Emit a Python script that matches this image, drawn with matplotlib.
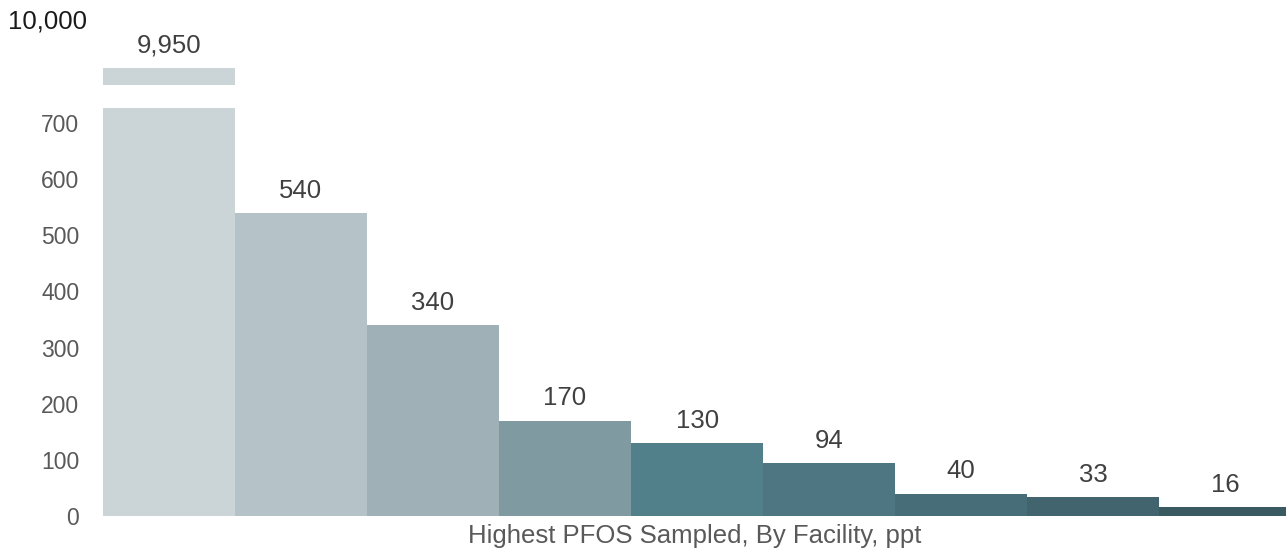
import matplotlib
matplotlib.use("Agg")
import matplotlib.pyplot as plt

# data
facilities = ["F1", "F2", "F3", "F4", "F5", "F6", "F7", "F8", "F9"]
pfos_ppt = [9950, 540, 340, 170, 130, 94, 40, 33, 16]
tick_values = [0, 100, 200, 300, 400, 500, 600, 700]
top_tick_label = "10,000"
x_label = "Highest PFOS Sampled, By Facility, ppt"

colors = ["#cbd5d8", "#b5c3c8", "#9fb1b6", "#7f9ba1", "#517f8a",
          "#4d7582", "#476e78", "#41646e", "#3a5a62"]

# broken axis layout (display units above 700 are squeezed)
AXIS_TOP = 919
BREAK_LOW = 727       # top of lower piece of a clipped bar
STUB_BOTTOM = 768     # upper stub of a clipped bar
STUB_TOP = 798
TOP_TICK_POS = 880
CLIP = 700

plt.rcParams["font.family"] = ["Liberation Sans", "DejaVu Sans"]

fig = plt.figure(figsize=(12.86, 5.48), dpi=100)
ax = fig.add_axes([0.080, 0.0584, 0.920, 0.9416])

for i, v in enumerate(pfos_ppt):
    if v > CLIP:
        ax.bar(i, BREAK_LOW, width=1.0, color=colors[i])
        ax.bar(i, STUB_TOP - STUB_BOTTOM, bottom=STUB_BOTTOM, width=1.0, color=colors[i])
        top = STUB_TOP
    else:
        ax.bar(i, v, width=1.0, color=colors[i])
        top = v
    ax.annotate(f"{v:,}", (i, top), xytext=(0, 16), textcoords="offset points",
                ha="center", va="center", fontsize=18.5, color="#404040")

ax.set_xlim(-0.5, len(pfos_ppt) - 0.54)
ax.set_ylim(0, AXIS_TOP)
ax.set_yticks(tick_values)
ax.set_yticklabels([f"{t:,}" for t in tick_values])
ax.tick_params(axis="y", length=0, pad=17, labelsize=16.5, labelcolor="#595959")
ax.set_xticks([])
for s in ax.spines.values():
    s.set_visible(False)

ax.text(8 / 1286, TOP_TICK_POS, top_tick_label,
        transform=matplotlib.transforms.blended_transform_factory(fig.transFigure, ax.transData),
        ha="left", va="center", fontsize=18.5, color="#1a1a1a")
ax.set_xlabel(x_label, fontsize=18.5, color="#595959", labelpad=6)

fig.savefig("out.png", dpi=100)
